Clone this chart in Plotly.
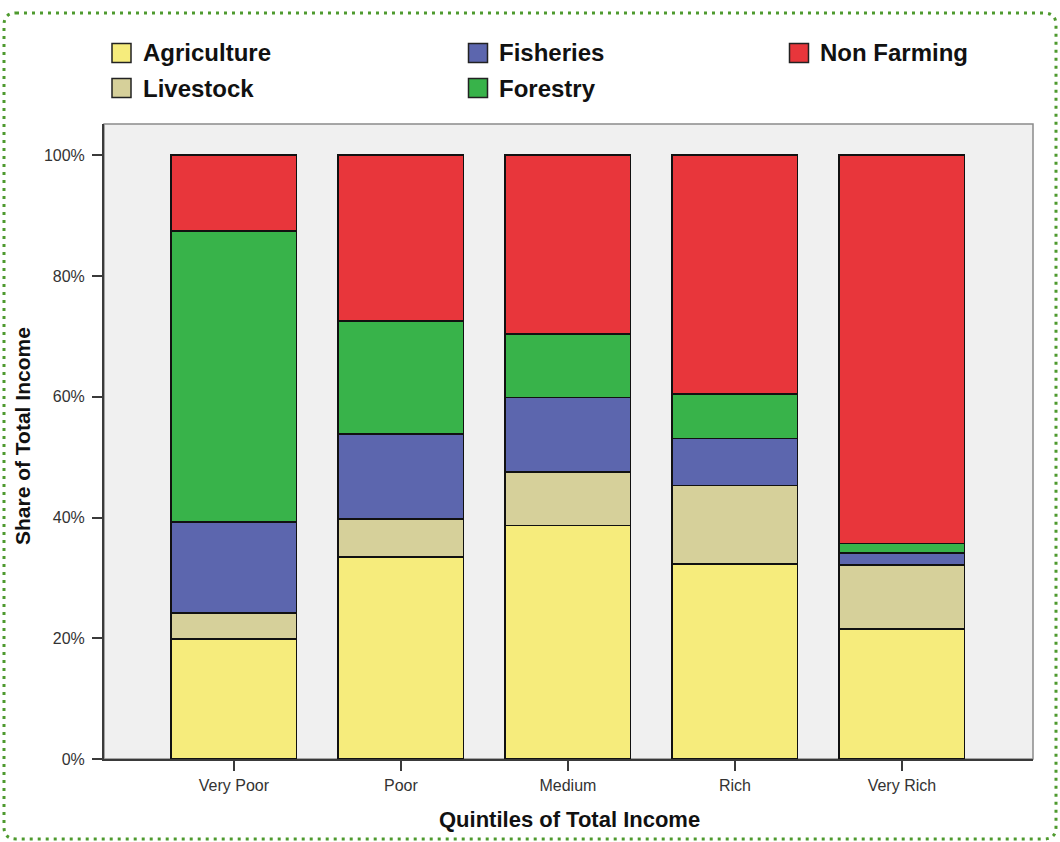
import plotly.graph_objects as go

# ---------------- data ----------------
categories = ["Very Poor", "Poor", "Medium", "Rich", "Very Rich"]
agriculture = [19.9, 33.5, 38.7, 32.3, 21.6]
livestock = [4.3, 6.2, 8.9, 13.0, 10.6]
fisheries = [15.0, 14.2, 12.3, 7.8, 1.9]
forestry = [48.3, 18.7, 10.5, 7.4, 1.6]
non_farming = [12.5, 27.4, 29.6, 39.5, 64.3]

series_names = ["Agriculture", "Livestock", "Fisheries", "Forestry", "Non Farming"]
series_values = [agriculture, livestock, fisheries, forestry, non_farming]
colors = ["#F6EC7C", "#D6D09A", "#5C66AE", "#38B34A", "#E8363B"]

ytick_vals = [0, 20, 40, 60, 80, 100]
ytick_text = ["0%", "20%", "40%", "60%", "80%", "100%"]

# ---------------- layout geometry ----------------
W, H = 1060, 842
L, R, T, B = 104, 27, 124, 83
PW, PH = W - L - R, H - T - B
FONT = "Liberation Sans, Arial, Helvetica, sans-serif"


def px(x):
    return (x - L) / PW


def py(y):
    return (H - B - y) / PH


fig = go.Figure()
for name, vals, col in zip(series_names, series_values, colors):
    fig.add_trace(go.Bar(
        x=categories, y=vals, name=name, width=0.75,
        marker=dict(color=col, line=dict(color="#111111", width=1.8)),
        showlegend=False,
    ))

shapes = []
annotations = []

# plot frame (top/right lighter)
shapes.append(dict(type="rect", xref="paper", yref="paper", x0=0, y0=0, x1=1, y1=1,
                   line=dict(color="#8a8a8a", width=1.5), layer="below"))

# legend (manual, column-major as in the reference)
legend_items = [
    ("Agriculture", 121.5, 53, 141),
    ("Livestock", 121.5, 88, 141),
    ("Fisheries", 478, 53, 497),
    ("Forestry", 478, 88, 497),
    ("Non Farming", 799, 53, 818),
]
for (name, cx, cy, tx), col in zip(legend_items, colors):
    s = 9.5
    shapes.append(dict(type="rect", xref="paper", yref="paper",
                       x0=px(cx - s), x1=px(cx + s), y0=py(cy + s), y1=py(cy - s),
                       fillcolor=col, line=dict(color="#222222", width=1.5)))
    annotations.append(dict(x=px(tx), y=py(cy), xref="paper", yref="paper",
                            text="<b>" + name + "</b>", showarrow=False,
                            xanchor="left", yanchor="middle",
                            font=dict(family=FONT, size=24, color="#111111")))

# axis titles
annotations.append(dict(x=px(569), y=py(819), xref="paper", yref="paper",
                        text="<b>Quintiles of Total Income</b>", showarrow=False,
                        xanchor="center", yanchor="middle",
                        font=dict(family=FONT, size=22, color="#111111")))
annotations.append(dict(x=px(22), y=py(436), xref="paper", yref="paper",
                        text="<b>Share of Total Income</b>", showarrow=False, textangle=-90,
                        xanchor="center", yanchor="middle",
                        font=dict(family=FONT, size=21, color="#111111")))

# dotted rounded border around the whole picture
x0, x1, y0, y1, r = 4, 1056, 13, 839, 12
pts = [
    ("M", (x0 + r, y0)), ("L", (x1 - r, y0)), ("Q", (x1, y0), (x1, y0 + r)),
    ("L", (x1, y1 - r)), ("Q", (x1, y1), (x1 - r, y1)),
    ("L", (x0 + r, y1)), ("Q", (x0, y1), (x0, y1 - r)),
    ("L", (x0, y0 + r)), ("Q", (x0, y0), (x0 + r, y0)),
]
path = ""
for item in pts:
    cmd = item[0]
    coords = " ".join(f"{px(p[0]):.5f},{py(p[1]):.5f}" for p in item[1:])
    path += f"{cmd} {coords} "
path += "Z"
shapes.append(dict(type="path", xref="paper", yref="paper", path=path,
                   line=dict(color="#4E9A2E", width=3, dash="3px,5px")))

fig.update_layout(
    width=W, height=H,
    margin=dict(l=L, r=R, t=T, b=B, pad=0),
    barmode="stack",
    paper_bgcolor="white",
    plot_bgcolor="#F0F0F0",
    bargap=0.25,
    shapes=shapes,
    annotations=annotations,
    font=dict(family=FONT, color="#333333"),
)
fig.update_xaxes(
    type="category", range=[-0.778, 4.785],
    showgrid=False, zeroline=False,
    showline=True, linecolor="#3a3a3a", linewidth=2,
    ticks="outside", ticklen=10, tickwidth=2, tickcolor="#3a3a3a",
    tickfont=dict(family=FONT, size=16, color="#333333"),
    ticklabelstandoff=1,
)
fig.update_yaxes(
    range=[0, 105.2],
    tickvals=ytick_vals, ticktext=ytick_text,
    showgrid=False, zeroline=False,
    showline=True, linecolor="#3a3a3a", linewidth=2,
    ticks="outside", ticklen=10, tickwidth=2, tickcolor="#3a3a3a",
    tickfont=dict(family=FONT, size=16, color="#333333"),
    ticklabelstandoff=4,
)

fig.write_html("out.html")
